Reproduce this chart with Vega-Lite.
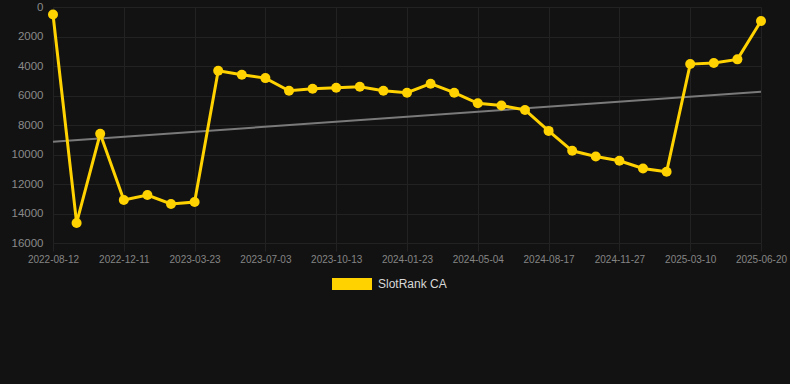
{
  "$schema": "https://vega.github.io/schema/vega-lite/v6.json",
  "autosize": "none",
  "width": 737,
  "height": 236,
  "padding": {"left": 53, "top": 7, "right": 0, "bottom": 141},
  "background": "#121212",
  "config": {
    "view": {"stroke": null},
    "font": "Liberation Sans, Arial, sans-serif",
    "axis": {"gridColor": "#222222", "gridWidth": 1, "domain": false}
  },
  "datasets": {
    "rank": [
      {"date": "2022-08-12", "rank": 510, "series": "SlotRank CA"},
      {"date": "2022-09-22", "rank": 14640, "series": "SlotRank CA"},
      {"date": "2022-11-01", "rank": 8600, "series": "SlotRank CA"},
      {"date": "2022-12-11", "rank": 13080, "series": "SlotRank CA"},
      {"date": "2023-01-14", "rank": 12745, "series": "SlotRank CA"},
      {"date": "2023-02-17", "rank": 13350, "series": "SlotRank CA"},
      {"date": "2023-03-23", "rank": 13220, "series": "SlotRank CA"},
      {"date": "2023-04-26", "rank": 4320, "series": "SlotRank CA"},
      {"date": "2023-05-30", "rank": 4590, "series": "SlotRank CA"},
      {"date": "2023-07-03", "rank": 4820, "series": "SlotRank CA"},
      {"date": "2023-08-06", "rank": 5675, "series": "SlotRank CA"},
      {"date": "2023-09-09", "rank": 5540, "series": "SlotRank CA"},
      {"date": "2023-10-13", "rank": 5470, "series": "SlotRank CA"},
      {"date": "2023-11-16", "rank": 5405, "series": "SlotRank CA"},
      {"date": "2023-12-20", "rank": 5675, "series": "SlotRank CA"},
      {"date": "2024-01-23", "rank": 5810, "series": "SlotRank CA"},
      {"date": "2024-02-26", "rank": 5200, "series": "SlotRank CA"},
      {"date": "2024-03-31", "rank": 5810, "series": "SlotRank CA"},
      {"date": "2024-05-04", "rank": 6530, "series": "SlotRank CA"},
      {"date": "2024-06-08", "rank": 6680, "series": "SlotRank CA"},
      {"date": "2024-07-13", "rank": 6980, "series": "SlotRank CA"},
      {"date": "2024-08-17", "rank": 8400, "series": "SlotRank CA"},
      {"date": "2024-09-20", "rank": 9750, "series": "SlotRank CA"},
      {"date": "2024-10-24", "rank": 10135, "series": "SlotRank CA"},
      {"date": "2024-11-27", "rank": 10425, "series": "SlotRank CA"},
      {"date": "2024-12-31", "rank": 10945, "series": "SlotRank CA"},
      {"date": "2025-02-03", "rank": 11170, "series": "SlotRank CA"},
      {"date": "2025-03-10", "rank": 3870, "series": "SlotRank CA"},
      {"date": "2025-04-13", "rank": 3800, "series": "SlotRank CA"},
      {"date": "2025-05-17", "rank": 3550, "series": "SlotRank CA"},
      {"date": "2025-06-20", "rank": 945, "series": "SlotRank CA"}
    ],
    "trend": [
      {"date": "2022-08-12", "rank": 9140},
      {"date": "2025-06-20", "rank": 5740}
    ]
  },
  "encoding": {
    "x": {
      "field": "date",
      "type": "ordinal",
      "sort": null,
      "scale": {
        "type": "point",
        "padding": 0,
        "range": [0, 708],
        "domain": ["2022-08-12", "2022-09-22", "2022-11-01", "2022-12-11", "2023-01-14", "2023-02-17", "2023-03-23", "2023-04-26", "2023-05-30", "2023-07-03", "2023-08-06", "2023-09-09", "2023-10-13", "2023-11-16", "2023-12-20", "2024-01-23", "2024-02-26", "2024-03-31", "2024-05-04", "2024-06-08", "2024-07-13", "2024-08-17", "2024-09-20", "2024-10-24", "2024-11-27", "2024-12-31", "2025-02-03", "2025-03-10", "2025-04-13", "2025-05-17", "2025-06-20"]
      },
      "axis": {
        "title": null,
        "values": ["2022-08-12", "2022-12-11", "2023-03-23", "2023-07-03", "2023-10-13", "2024-01-23", "2024-05-04", "2024-08-17", "2024-11-27", "2025-03-10", "2025-06-20"],
        "labelAngle": 0,
        "labelFontSize": 10,
        "labelColor": "#858585",
        "tickColor": "#222222",
        "tickSize": 8,
        "labelPadding": 3,
        "grid": true
      }
    },
    "y": {
      "field": "rank",
      "type": "quantitative",
      "scale": {"domain": [0, 16000], "reverse": true, "nice": false},
      "axis": {
        "title": null,
        "format": "d",
        "values": [0, 2000, 4000, 6000, 8000, 10000, 12000, 14000, 16000],
        "labelFontSize": 11.5,
        "labelColor": "#8a8a8a",
        "ticks": false,
        "labelPadding": 10,
        "grid": true
      }
    }
  },
  "layer": [
    {
      "data": {"name": "trend"},
      "mark": {"type": "line", "color": "#7a7a7a", "strokeWidth": 2},
      "encoding": {}
    },
    {
      "data": {"name": "rank"},
      "mark": {"type": "line", "strokeWidth": 3, "point": {"filled": true, "size": 100, "opacity": 1}},
      "encoding": {
        "color": {
          "field": "series",
          "type": "nominal",
          "scale": {"range": ["#ffd200"]},
          "legend": {
            "title": null,
            "orient": "none",
            "legendX": 279,
            "legendY": 257,
            "direction": "horizontal",
            "symbolType": "M-1,-0.3L1,-0.3L1,0.3L-1,0.3Z",
            "symbolSize": 1600,
            "symbolStrokeWidth": 0,
            "labelFontSize": 12,
            "labelColor": "#d8d8d8",
            "labelOffset": 6,
            "padding": 0
          }
        }
      }
    }
  ]
}
